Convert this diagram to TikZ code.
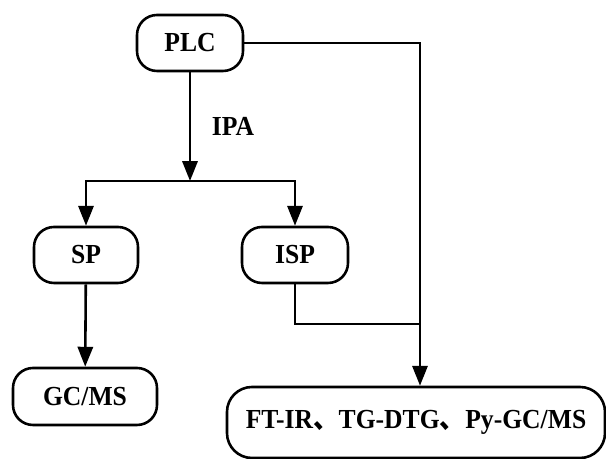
\documentclass[tikz,border=0pt]{standalone}
\usepackage{fontspec}
\setmainfont{Liberation Serif}[FakeStretch=0.93]
\newfontfamily\cjk{Noto Sans CJK SC}[FakeStretch=0.93]
\usepackage{tikz}
\usetikzlibrary{arrows.meta,positioning}

\begin{document}
\begin{tikzpicture}[
    x=0.03cm,y=0.03cm,>={Triangle[length=17pt,width=13pt]},
    line width=2.2pt,
    stage/.style={draw,rounded corners=0.6cm,inner sep=0pt,align=center,minimum height=1.68cm},
    flowlabel/.style={inner sep=0pt}
  ]
  \fontsize{23.5}{28}\selectfont\bfseries
  \useasboundingbox (0,0) rectangle (606,459);
  \node[stage,minimum width=3.18cm] (plc) at (190,416) {PLC};
  \node[stage,minimum width=3.12cm] (sp) at (86,204) {SP};
  \node[stage,minimum width=3.18cm] (isp) at (295,204) {ISP};
  \node[stage,minimum width=4.32cm,minimum height=1.71cm] (gcms) at (85,62.5) {GC/MS};
  \node[stage,rounded corners=0.75cm,minimum width=11.34cm,minimum height=2.13cm] (ft) at (416,36.5) {FT-IR{\cjk 、}TG-DTG{\cjk 、}Py-GC/MS};
  \coordinate (split) at (190,278);
  \coordinate (merge) at (420,135);
  \draw[->] (plc) -- node[flowlabel,right=0.62cm] {IPA} (split);
  \draw[->] (split) -| (sp);
  \draw[->] (split) -| (isp);
  \draw[->] (sp) -- (gcms);
  \draw (isp.south) |- (merge);
  \draw[->] (plc.east) -| (merge) -- (ft.north -| merge);
\end{tikzpicture}
\end{document}
